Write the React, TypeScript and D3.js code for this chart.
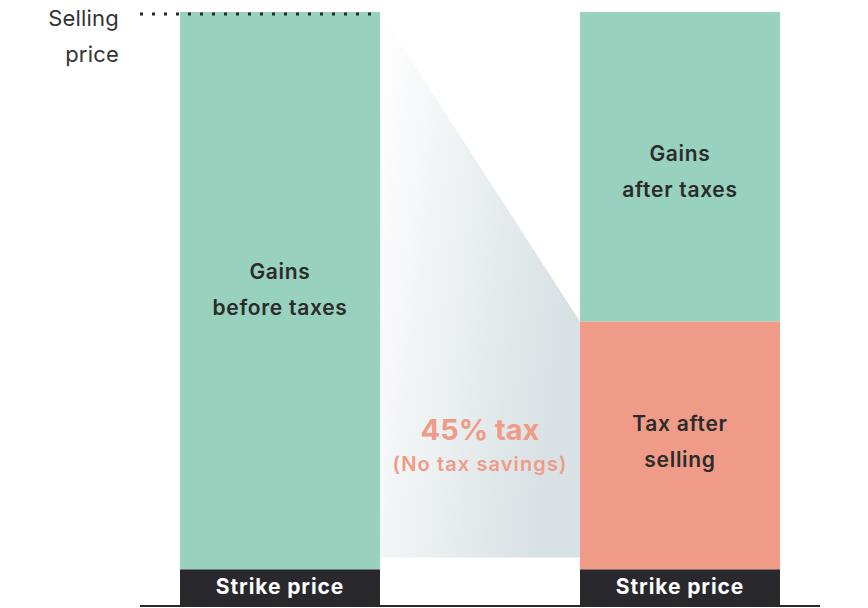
import React from "react";
import * as d3 from "d3";

const categories = ["Before", "After"];
const sellingPrice = 100;
const strikePrice = 6;
const taxAmount = 41.8;
const strikeLabels = ["Strike price", "Strike price"];
const gainsLabels = [["Gains", "before taxes"], ["Gains", "after taxes"]];
const taxLabel = ["Tax after", "selling"];
const axisLabel = ["Selling", "price"];
const calloutLabels = ["45% tax", "(No tax savings)"];

const W = 868;
const H = 608;
const GREEN = "#98d1be";
const SALMON = "#f09b87";
const DARK = "#29292d";
const TEXT = "#2b2b2b";
const FONT = "Inter, 'Open Sans', sans-serif";

export default function App() {
  const x = d3.scaleBand<string>().domain(categories).range([80, 880]).paddingInner(0.5).paddingOuter(0.25);
  const y = d3.scaleLinear().domain([0, sellingPrice]).range([605, 12]);
  const bw = x.bandwidth();
  const x0 = x("Before")!;
  const x1 = x("After")!;
  const taxTop = y(strikePrice + taxAmount);

  const poly = d3.line()([
    [x0 + bw, y(sellingPrice)],
    [x1, taxTop],
    [x1, y(strikePrice) - 12],
    [x0 + bw, y(strikePrice) - 12],
  ]) + "Z";

  const lbl = { fill: TEXT, fontSize: 21, fontWeight: 600, letterSpacing: 0.7, textAnchor: "middle" as const };

  return (
    <svg width={W} height={H} style={{ position: "absolute", left: 0, top: 0 }} fontFamily={FONT}>
      <defs>
        <linearGradient id="fade" x1="0" y1="0" x2="1" y2="0.35">
          <stop offset="0" stopColor="#ffffff" />
          <stop offset="1" stopColor="#d8e1e4" />
        </linearGradient>
      </defs>
      <path d={poly} fill="url(#fade)" />
      <rect x={x0} y={y(sellingPrice)} width={bw} height={y(strikePrice) - y(sellingPrice)} fill={GREEN} />
      <rect x={x1} y={y(sellingPrice)} width={bw} height={taxTop - y(sellingPrice)} fill={GREEN} />
      <rect x={x1} y={taxTop} width={bw} height={y(strikePrice) - taxTop} fill={SALMON} />
      {categories.map((c, i) => (
        <g key={c}>
          <rect x={x(c)!} y={y(strikePrice)} width={bw} height={y(0) - y(strikePrice)} fill={DARK} />
          <text x={x(c)! + bw / 2} y={y(0) - 11} textAnchor="middle" fill="#fff" fontSize={21} fontWeight={700} letterSpacing={0.9}>
            {strikeLabels[i]}
          </text>
        </g>
      ))}
      <line x1={140} x2={x0 + bw} y1={y(sellingPrice) + 2} y2={y(sellingPrice) + 2} stroke={DARK} strokeWidth={3} strokeDasharray="3 9" />
      <line x1={140} x2={820} y1={y(0) + 1} y2={y(0) + 1} stroke={DARK} strokeWidth={2} />
      {axisLabel.map((t, i) => (
        <text key={t} x={119} y={26 + i * 36} textAnchor="end" fill="#333" fontSize={22} letterSpacing={0.2}>
          {t}
        </text>
      ))}
      {gainsLabels[0].map((t, i) => (
        <text key={"l" + i} x={x0 + bw / 2} y={279 + i * 36} {...lbl}>
          {t}
        </text>
      ))}
      {gainsLabels[1].map((t, i) => (
        <text key={"r" + i} x={x1 + bw / 2} y={161 + i * 36} {...lbl}>
          {t}
        </text>
      ))}
      {taxLabel.map((t, i) => (
        <text key={"t" + i} x={x1 + bw / 2} y={431 + i * 36} {...lbl}>
          {t}
        </text>
      ))}
      <text x={480} y={440} textAnchor="middle" fill={SALMON} fontSize={29} fontWeight={700}>
        {calloutLabels[0]}
      </text>
      <text x={480} y={471} textAnchor="middle" fill={SALMON} fontSize={20} fontWeight={600} letterSpacing={1.1}>
        {calloutLabels[1]}
      </text>
    </svg>
  );
}
